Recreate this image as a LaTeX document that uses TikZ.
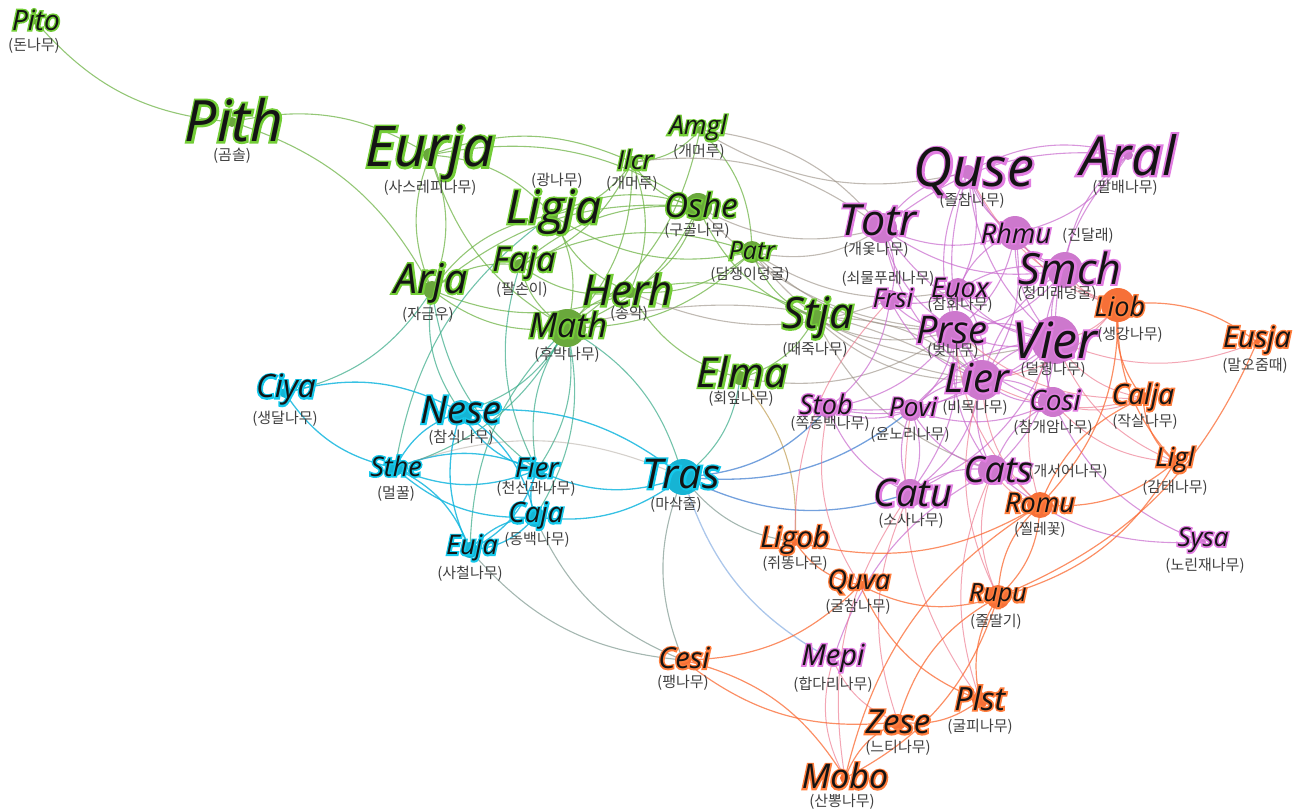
\documentclass[tikz,border=0pt]{standalone}
\usepackage{fontspec}
\newfontfamily\labfont{Open Sans}
\newfontfamily\krfont{Noto Sans CJK KR}
\definecolor{gfill}{RGB}{106,168,60}
\definecolor{cfill}{RGB}{22,180,212}
\definecolor{pfill}{RGB}{205,120,205}
\definecolor{ofill}{RGB}{246,112,56}
\definecolor{gline}{RGB}{112,180,72}
\definecolor{cline}{RGB}{20,182,222}
\definecolor{pline}{RGB}{200,105,205}
\definecolor{oline}{RGB}{250,105,50}
\definecolor{tline}{RGB}{55,170,135}
\definecolor{grline}{RGB}{150,140,128}
\definecolor{kline}{RGB}{236,118,140}
\definecolor{bline}{RGB}{70,130,210}
\definecolor{ggline}{RGB}{105,135,125}
\definecolor{tanline}{RGB}{200,170,105}
\definecolor{ggl}{RGB}{115,205,55}
\definecolor{cgl}{RGB}{20,200,235}
\definecolor{pgl}{RGB}{225,125,225}
\definecolor{ogl}{RGB}{255,125,60}
\newcommand\lbl[7]{%
  \pgfmathsetmacro\fbv{200/#3+4}%
  \node[labst, font=\labfont\itshape\fontsize{#3}{#3}\selectfont] (#1-g) at #2 {\addfontfeatures{FakeBold=\fbv}\color{#4}#5};
  \node[labst, font=\labfont\itshape\fontsize{#3}{#3}\selectfont] (#1-t) at #2 {#5};
  \node[subst] (#1-s) at #6 {#7};}
\tikzset{
  labst/.style={inner sep=0pt, text=black!92},
  subst/.style={inner sep=0pt, font=\krfont\fontsize{15}{15}\selectfont, text=black!75},
  cv/.style={bend right=22},
  eg/.style={draw=gline, line width=1.1pt, opacity=0.75},
  ec/.style={draw=cline, line width=1.3pt, opacity=0.85},
  ep/.style={draw=pline, line width=1.1pt, opacity=0.7},
  eo/.style={draw=oline, line width=1.2pt, opacity=0.75},
  et/.style={draw=tline, line width=1.1pt, opacity=0.7},
  egr/.style={draw=grline, line width=1.1pt, opacity=0.6},
  ek/.style={draw=kline, line width=1.0pt, opacity=0.65},
  eb/.style={draw=bline, line width=1.3pt, opacity=0.75},
  egg/.style={draw=ggline, line width=1.1pt, opacity=0.6},
}
\begin{document}
\begin{tikzpicture}[x=1pt,y=-1pt]
\useasboundingbox (0,0) rectangle (1303,809);
% ---- node positions ----
\coordinate (Pito) at (36,22);   \coordinate (Pith) at (232,122);
\coordinate (Eurja) at (430,155); \coordinate (Arja) at (432,290);
\coordinate (Ligja) at (552,215); \coordinate (Ilcr) at (632,162);
\coordinate (Amgl) at (700,130);  \coordinate (Oshe) at (698,207);
\coordinate (Faja) at (520,265);  \coordinate (Herh) at (630,292);
\coordinate (Math) at (567,328);  \coordinate (Patr) at (752,252);
\coordinate (Stja) at (815,318);  \coordinate (Elma) at (740,378);
\coordinate (Ciya) at (285,393);  \coordinate (Nese) at (461,412);
\coordinate (Sthe) at (395,468);  \coordinate (Fier) at (537,470);
\coordinate (Caja) at (535,517);  \coordinate (Euja) at (470,550);
\coordinate (Tras) at (683,477);
\coordinate (Quse) at (968,172);  \coordinate (Aral) at (1128,155);
\coordinate (Totr) at (882,228);  \coordinate (Rhmu) at (1015,233);
\coordinate (Smch) at (1065,270); \coordinate (Euox) at (958,290);
\coordinate (Frsi) at (890,300);  \coordinate (Prse) at (955,330);
\coordinate (Vier) at (1055,340); \coordinate (Lier) at (982,380);
\coordinate (Povi) at (911,410);  \coordinate (Cosi) at (1053,402);
\coordinate (Stob) at (828,408);  \coordinate (Cats) at (993,470);
\coordinate (Catu) at (910,493);  \coordinate (Sysa) at (1203,542);
\coordinate (Mepi) at (833,660);
\coordinate (Liob) at (1118,305); \coordinate (Eusja) at (1257,342);
\coordinate (Calja) at (1143,398); \coordinate (Ligl) at (1175,462);
\coordinate (Romu) at (1040,505); \coordinate (Rupu) at (998,597);
\coordinate (Ligob) at (795,542); \coordinate (Quva) at (860,585);
\coordinate (Cesi) at (683,660);  \coordinate (Plst) at (980,700);
\coordinate (Zese) at (898,722);  \coordinate (Mobo) at (845,778);
% ---- edges ----
\foreach \a/\b in {Pito/Pith, Eurja/Pith, Arja/Pith, Eurja/Arja, Arja/Eurja, Eurja/Math, Ilcr/Eurja,
  Ligja/Eurja, Oshe/Eurja, Ligja/Ilcr, Oshe/Ligja, Math/Ligja, Ligja/Arja, Faja/Ilcr, Oshe/Faja,
  Patr/Faja, Faja/Math, Faja/Arja, Herh/Ilcr, Herh/Oshe, Herh/Patr, Herh/Math, Herh/Elma, Stja/Herh,
  Math/Ilcr, Math/Oshe, Math/Amgl, Math/Patr, Ilcr/Amgl, Patr/Amgl, Ilcr/Oshe, Oshe/Stja, Patr/Stja,
  Elma/Stja, Oshe/Arja, Arja/Math, Arja/Herh, Ligja/Patr, Faja/Herh, Ligja/Herh}
  \draw[eg] (\a) to[cv] (\b);
\foreach \a/\b in {Ciya/Arja, Nese/Math, Sthe/Math, Tras/Math, Math/Fier, Caja/Math, Math/Euja,
  Faja/Fier, Arja/Nese, Ligja/Sthe, Tras/Elma, Fier/Math, Arja/Fier}
  \draw[et] (\a) to[cv] (\b);
\foreach \a/\b in {Totr/Amgl, Totr/Ilcr, Oshe/Totr, Oshe/Prse, Patr/Prse, Patr/Totr, Patr/Lier,
  Stja/Prse, Stja/Lier, Lier/Stja, Stja/Vier, Lier/Math, Elma/Prse, Herh/Frsi, Stja/Cats, Patr/Euox, Amgl/Quse}
  \draw[egr] (\a) to[cv] (\b);
\draw[draw=tanline, line width=1.1pt, opacity=0.8] (Ligob) to[cv] (Elma);
\foreach \a/\b in {Nese/Ciya, Ciya/Sthe, Nese/Sthe, Nese/Fier, Caja/Nese, Nese/Euja, Tras/Nese,
  Sthe/Fier, Fier/Sthe, Sthe/Caja, Euja/Sthe, Fier/Caja, Fier/Tras, Caja/Euja, Euja/Caja, Caja/Tras, Euja/Fier}
  \draw[ec] (\a) to[cv] (\b);
\foreach \a/\b in {Tras/Stob, Tras/Povi, Tras/Catu}
  \draw[eb] (\a) to[cv] (\b);
\draw[eb, opacity=0.45] (Tras) to[cv] (Mepi);
\foreach \a/\b in {Tras/Cesi, Caja/Cesi, Euja/Cesi, Tras/Ligob}
  \draw[egg] (\a) to[cv] (\b);
\draw[egr, opacity=0.4] (Tras) to[cv] (Sthe);
\foreach \a/\b in {Aral/Quse, Quse/Totr, Quse/Rhmu, Quse/Smch, Quse/Vier, Quse/Prse, Euox/Quse, Quse/Lier,
  Aral/Smch, Rhmu/Aral, Aral/Vier, Aral/Totr, Totr/Rhmu, Totr/Smch, Frsi/Totr, Totr/Prse, Totr/Lier, Totr/Vier,
  Rhmu/Smch, Rhmu/Euox, Prse/Rhmu, Rhmu/Vier, Lier/Rhmu, Smch/Vier, Prse/Smch, Smch/Euox, Smch/Lier, Smch/Cosi,
  Euox/Prse, Euox/Vier, Frsi/Euox, Lier/Euox, Frsi/Prse, Frsi/Lier, Stob/Frsi, Prse/Vier, Vier/Prse, Prse/Lier,
  Povi/Prse, Prse/Cats, Catu/Prse, Prse/Cosi, Vier/Lier, Lier/Vier, Vier/Cosi, Cats/Vier, Vier/Povi, Catu/Vier,
  Lier/Povi, Lier/Cosi, Cosi/Lier, Lier/Cats, Catu/Lier, Stob/Lier, Povi/Catu, Catu/Povi, Stob/Povi, Povi/Cosi, Cosi/Cats,
  Cats/Catu, Cats/Sysa, Cosi/Sysa, Stob/Catu, Cats/Mepi, Povi/Cats, Stob/Prse, Stob/Vier}
  \draw[ep] (\a) to[cv] (\b);
\foreach \a/\b in {Vier/Liob, Vier/Eusja, Vier/Calja, Vier/Ligl, Vier/Romu, Smch/Liob, Quse/Liob, Lier/Calja,
  Lier/Romu, Cosi/Calja, Cosi/Ligl, Prse/Romu, Cats/Romu, Povi/Plst, Catu/Zese, Catu/Mobo, Lier/Rupu, Cats/Plst,
  Mepi/Mobo, Mepi/Zese, Frsi/Ligob, Stob/Quva, Prse/Calja, Rhmu/Liob, Cats/Rupu, Lier/Liob}
  \draw[ek] (\a) to[cv] (\b);
\foreach \a/\b in {Eusja/Liob, Liob/Calja, Liob/Ligl, Romu/Liob, Calja/Ligl, Calja/Romu, Romu/Ligl,
  Romu/Rupu, Rupu/Romu, Ligob/Romu, Romu/Mobo, Quva/Rupu, Rupu/Zese, Rupu/Plst, Ligob/Quva, Cesi/Quva,
  Quva/Plst, Mobo/Cesi, Cesi/Zese, Zese/Plst, Zese/Mobo, Mobo/Rupu, Rupu/Eusja, Rupu/Ligl}
  \draw[eo] (\a) to[cv] (\b);
% ---- dots ----
\foreach \n/\r in {Pito/3, Pith/5, Eurja/7, Arja/9, Ligja/6, Ilcr/6, Amgl/4, Oshe/14, Faja/6, Herh/6,
  Math/19, Patr/11, Stja/9, Elma/7}
  \fill[gfill] (\n) circle (\r);
\foreach \n/\r in {Ciya/5, Nese/12, Sthe/8, Fier/8, Caja/10, Euja/8, Tras/18}
  \fill[cfill] (\n) circle (\r);
\foreach \n/\r in {Quse/7, Aral/5, Totr/15, Rhmu/17, Smch/18, Euox/12, Frsi/10, Prse/19, Vier/24, Lier/20,
  Povi/11, Cosi/15, Stob/10, Cats/15, Catu/14, Sysa/3, Mepi/3}
  \fill[pfill] (\n) circle (\r);
\foreach \n/\r in {Liob/17, Eusja/3, Calja/6, Ligl/7, Romu/13, Rupu/12, Ligob/4, Quva/5, Cesi/8, Plst/8,
  Zese/8, Mobo/5}
  \fill[ofill] (\n) circle (\r);
% ---- labels ----
\lbl{Pito}{(36,20)}{28}{ggl}{Pito}{(34,46)}{(돈나무)}
\lbl{Pith}{(234,120)}{57}{ggl}{Pith}{(232,156)}{(곰솔)}
\lbl{Eurja}{(430,153)}{56}{ggl}{Eurja}{(430,188)}{(사스레피나무)}
\lbl{Ligja}{(554,212)}{46}{ggl}{Ligja}{(557,181)}{(광나무)}
\lbl{Ilcr}{(635,160)}{26}{ggl}{Ilcr}{(632,184)}{(개머루)}
\lbl{Amgl}{(698,128)}{26}{ggl}{Amgl}{(699,152)}{(개머루)}
\lbl{Oshe}{(701,205)}{33}{ggl}{Oshe}{(697,231)}{(구골나무)}
\lbl{Arja}{(431,283)}{41}{ggl}{Arja}{(428,315)}{(자금우)}
\lbl{Faja}{(524,263)}{34}{ggl}{Faja}{(522,290)}{(팔손이)}
\lbl{Herh}{(628,290)}{42}{ggl}{Herh}{(629,314)}{(송악)}
\lbl{Math}{(568,325)}{34}{ggl}{Math}{(567,355)}{(후박나무)}
\lbl{Patr}{(752,251)}{25}{ggl}{Patr}{(750,275)}{(담쟁이덩굴)}
\lbl{Stja}{(818,318)}{43}{ggl}{Stja}{(815,350)}{(때죽나무)}
\lbl{Elma}{(742,372)}{41}{ggl}{Elma}{(741,399)}{(회잎나무)}
\lbl{Ciya}{(286,390)}{32}{cgl}{Ciya}{(285,419)}{(생달나무)}
\lbl{Nese}{(461,410)}{38}{cgl}{Nese}{(461,438)}{(참식나무)}
\lbl{Sthe}{(396,466)}{27}{cgl}{Sthe}{(396,494)}{(멀꿀)}
\lbl{Fier}{(537,468)}{27}{cgl}{Fier}{(536,489)}{(천선과나무)}
\lbl{Caja}{(536,516)}{28}{cgl}{Caja}{(537,540)}{(동백나무)}
\lbl{Euja}{(472,548)}{27}{cgl}{Euja}{(470,574)}{(사철나무)}
\lbl{Tras}{(681,474)}{41}{cgl}{Tras}{(676,505)}{(마삭줄)}
\lbl{Quse}{(974,172)}{54}{pgl}{Quse}{(972,201)}{(졸참나무)}
\lbl{Aral}{(1128,155)}{54}{pgl}{Aral}{(1125,188)}{(팔배나무)}
\lbl{Totr}{(878,220)}{43}{pgl}{Totr}{(876,250)}{(개옻나무)}
\lbl{Rhmu}{(1016,233)}{27}{pgl}{Rhmu}{(1088,236)}{(진달래)}
\lbl{Smch}{(1070,268)}{43}{pgl}{Smch}{(1057,294)}{(청미래덩굴)}
\lbl{Frsi}{(893,298)}{26}{pgl}{Frsi}{(888,279)}{(쇠물푸레나무)}
\lbl{Euox}{(960,288)}{27}{pgl}{Euox}{(960,305)}{(참회나무)}
\lbl{Prse}{(952,330)}{38}{pgl}{Prse}{(953,351)}{(벚나무)}
\lbl{Vier}{(1055,340)}{50}{pgl}{Vier}{(1053,370)}{(덜꿩나무)}
\lbl{Lier}{(977,378)}{40}{pgl}{Lier}{(975,408)}{(비목나무)}
\lbl{Povi}{(913,407)}{26}{pgl}{Povi}{(910,435)}{(윤노리나무)}
\lbl{Cosi}{(1055,400)}{28}{pgl}{Cosi}{(1053,428)}{(참개암나무)}
\lbl{Stob}{(826,404)}{27}{pgl}{Stob}{(830,424)}{(쪽동백나무)}
\lbl{Cats}{(998,470)}{36}{pgl}{Cats}{(1068,472)}{(개서어나무)}
\lbl{Catu}{(913,493)}{38}{pgl}{Catu}{(911,521)}{(소사나무)}
\lbl{Sysa}{(1203,540)}{26}{pgl}{Sysa}{(1205,566)}{(노린재나무)}
\lbl{Mepi}{(833,658)}{29}{pgl}{Mepi}{(833,685)}{(합다리나무)}
\lbl{Liob}{(1120,306)}{27}{ogl}{Liob}{(1130,335)}{(생강나무)}
\lbl{Eusja}{(1257,340)}{29}{ogl}{Eusja}{(1255,366)}{(말오줌때)}
\lbl{Calja}{(1143,397)}{28}{ogl}{Calja}{(1145,422)}{(작살나무)}
\lbl{Ligl}{(1175,460)}{26}{ogl}{Ligl}{(1175,488)}{(감태나무)}
\lbl{Romu}{(1040,503)}{27}{ogl}{Romu}{(1040,530)}{(찔레꽃)}
\lbl{Rupu}{(998,596)}{25}{ogl}{Rupu}{(996,622)}{(줄딸기)}
\lbl{Ligob}{(795,540)}{29}{ogl}{Ligob}{(795,564)}{(쥐똥나무)}
\lbl{Quva}{(859,582)}{27}{ogl}{Quva}{(858,607)}{(굴참나무)}
\lbl{Cesi}{(684,658)}{29}{ogl}{Cesi}{(683,683)}{(팽나무)}
\lbl{Plst}{(980,698)}{32}{ogl}{Plst}{(980,727)}{(굴피나무)}
\lbl{Zese}{(898,722)}{33}{ogl}{Zese}{(898,748)}{(느티나무)}
\lbl{Mobo}{(845,776)}{34}{ogl}{Mobo}{(842,802)}{(산뽕나무)}
\end{tikzpicture}
\end{document}
